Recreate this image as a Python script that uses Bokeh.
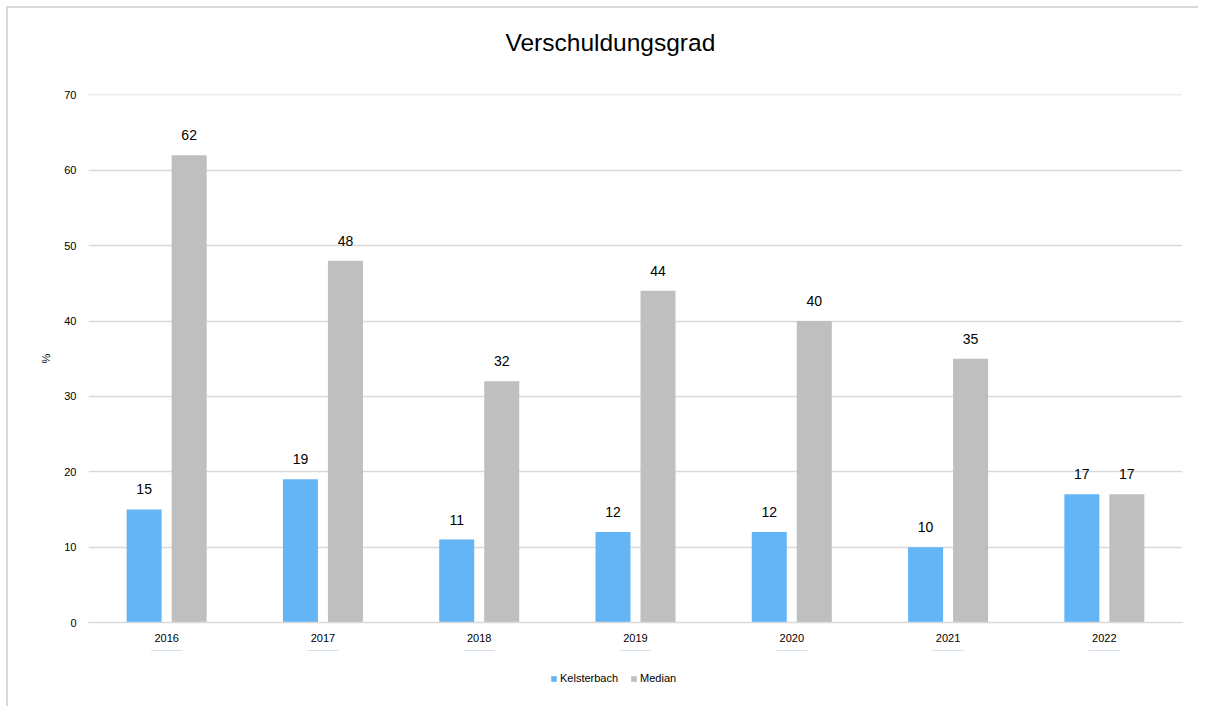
from bokeh.plotting import figure
from bokeh.layouts import column
from bokeh.models import ColumnDataSource, FactorRange, Range1d, Legend, LegendItem, Title, SingleIntervalTicker
from bokeh.transform import dodge
from bokeh.core.properties import value
from bokeh.embed import file_html
from bokeh.resources import INLINE

years = ["2016", "2017", "2018", "2019", "2020", "2021", "2022"]
kelsterbach = [15, 19, 11, 12, 12, 10, 17]
median = [62, 48, 32, 44, 40, 35, 17]
series_names = ["Kelsterbach", "Median"]

FONT = "Liberation Sans"
BLUE = "#64B5F6"
GRAY = "#BFBFBF"

src = ColumnDataSource(data=dict(
    years=years,
    kel=kelsterbach,
    med=median,
    kel_lbl=[str(v) for v in kelsterbach],
    med_lbl=[str(v) for v in median],
))

p = figure(
    x_range=FactorRange(*years),
    y_range=Range1d(0, 70.05),
    frame_width=1094, frame_height=528,
    output_backend="svg", toolbar_location=None,
    min_border_left=80, min_border_right=16, min_border_top=86, min_border_bottom=28,
)
p.outline_line_color = None
p.background_fill_color = "white"
p.border_fill_color = "white"

# spacer (closest to the frame), then the title above it
p.add_layout(Title(text=" ", text_font_size="20px"), "above")
t = Title(text="Verschuldungsgrad", align="left", offset=417,
          text_font=FONT, text_font_size="24.5px", text_font_style="normal",
          text_color="#000000")
p.add_layout(t, "above")

p.vbar(x=dodge("years", -0.144, range=p.x_range), top="kel", width=0.224,
       source=src, fill_color=BLUE, line_color=None)
p.vbar(x=dodge("years", 0.144, range=p.x_range), top="med", width=0.224,
       source=src, fill_color=GRAY, line_color=None)

p.text(x=dodge("years", -0.144, range=p.x_range), y="kel", text="kel_lbl", source=src,
       text_align="center", text_baseline="bottom", y_offset=-15,
       text_font=value(FONT), text_font_size="14px", text_color="#000000")
p.text(x=dodge("years", 0.144, range=p.x_range), y="med", text="med_lbl", source=src,
       text_align="center", text_baseline="bottom", y_offset=-15,
       text_font=value(FONT), text_font_size="14px", text_color="#000000")

# axes
p.yaxis.ticker = SingleIntervalTicker(interval=10)
p.yaxis.axis_line_color = None
p.yaxis.major_tick_line_color = None
p.yaxis.minor_tick_line_color = None
p.yaxis.major_label_text_font = FONT
p.yaxis.major_label_text_font_size = "11px"
p.yaxis.major_label_text_color = "#000000"
p.yaxis.major_label_standoff = 6
p.yaxis.axis_label = "%"
p.yaxis.axis_label_text_font = FONT
p.yaxis.axis_label_text_font_size = "11px"
p.yaxis.axis_label_text_font_style = "normal"
p.yaxis.axis_label_text_color = "#000000"
p.yaxis.axis_label_standoff = 9

p.xaxis.axis_line_color = "#d9d9d9"
p.xaxis.axis_line_width = 1.5
p.xaxis.major_tick_line_color = None
p.xaxis.minor_tick_line_color = None
p.xaxis.major_label_text_font = FONT
p.xaxis.major_label_text_font_size = "11px"
p.xaxis.major_label_text_color = "#000000"
p.xaxis.major_label_standoff = 5

p.xgrid.grid_line_color = None
p.ygrid.grid_line_color = "#d9d9d9"
p.ygrid.grid_line_width = 1.5

# legend strip below the chart (its bars lie outside its visible range)
lf = figure(width=1190, height=56, min_border=0, x_axis_type=None, y_axis_type=None,
            x_range=FactorRange(*years), y_range=Range1d(-2, -1),
            output_backend="svg", toolbar_location=None)
lf.outline_line_color = None
lf.background_fill_color = "white"
lf.border_fill_color = "white"
lr1 = lf.vbar(x="years", top="kel", width=0.2, source=src, fill_color=BLUE, line_color=None)
lr2 = lf.vbar(x="years", top="med", width=0.2, source=src, fill_color=GRAY, line_color=None)

legend = Legend(items=[LegendItem(label=series_names[0], renderers=[lr1]),
                       LegendItem(label=series_names[1], renderers=[lr2])],
                orientation="horizontal", location=(462, 22),
                label_text_font=FONT, label_text_font_size="11px", label_text_color="#000000",
                glyph_width=7, glyph_height=7, label_standoff=3, spacing=12,
                label_height=12, border_line_color=None, background_fill_alpha=0,
                padding=0, margin=0)
lf.add_layout(legend, "center")

layout = column(p, lf, spacing=0,
                styles={"border-top": "2px solid #d9d9d9", "border-left": "2px solid #d9d9d9",
                        "margin-left": "6px", "margin-top": "6px"})

open("out.html", "w").write(file_html(layout, INLINE))
